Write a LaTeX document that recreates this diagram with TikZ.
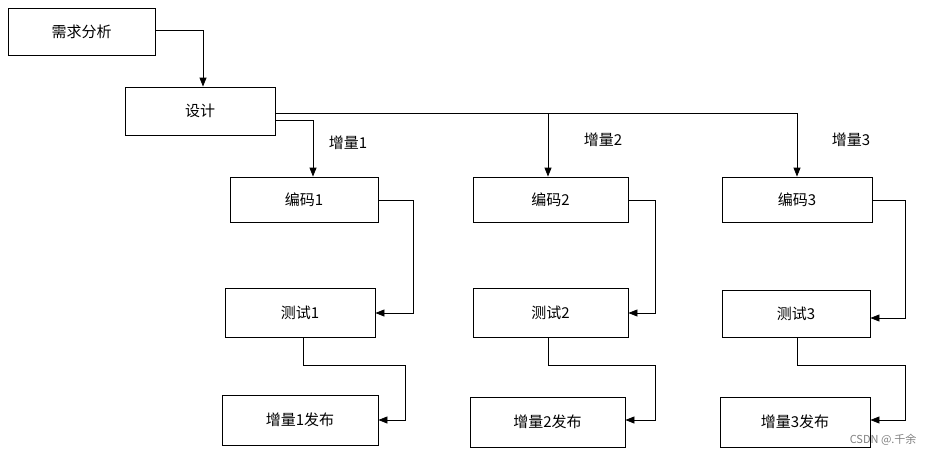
\documentclass[tikz,border=0pt]{standalone}
\usepackage{fontspec}
\newfontfamily\cjk{Noto Sans CJK SC}
\usetikzlibrary{arrows.meta}
\begin{document}
\begin{tikzpicture}[x=1pt,y=-1pt,
  box/.style={draw,line width=0.8pt,rectangle,inner sep=0,font=\cjk\fontsize{15}{15}\selectfont},
  ar/.style={line width=0.8pt,-{Triangle[length=9pt,width=7pt]}},
  ln/.style={line width=0.8pt},
  lab/.style={font=\cjk\fontsize{15}{15}\selectfont}]
\useasboundingbox (0,0) rectangle (925,455);
\newcommand{\bx}[6]{\node[box,minimum width=#4-#2,minimum height=#5-#3] (#1) at ({(#2+#4)/2},{(#3+#5)/2}) {#6};}
\bx{req}{8}{8}{155}{55}{需求分析}
\bx{des}{125}{87}{275}{135}{设计}
\bx{c1}{230}{177}{378}{222}{编码1}
\bx{c2}{473}{177}{628}{222}{编码2}
\bx{c3}{722}{177}{872}{222}{编码3}
\bx{t1}{225}{288}{375}{337}{测试1}
\bx{t2}{473}{288}{628}{337}{测试2}
\bx{t3}{722}{290}{870}{337}{测试3}
\bx{r1}{222}{395}{378}{445}{增量1发布}
\bx{r2}{470}{397}{625}{447}{增量2发布}
\bx{r3}{720}{397}{870}{447}{增量3发布}
\draw[ar] (req.east |- 0,30) -| (des.north -| 203,0);
\draw[ln] (des.east |- 0,113) -- (797,113);
\draw[ar] (548,113) -- (c2.north -| 548,0);
\draw[ar] (797,113) -- (c3.north -| 797,0);
\draw[ar] (des.east |- 0,120) -| (c1.north -| 313,0);
\node[lab] at (348,143) {增量1};
\node[lab] at (603,140) {增量2};
\node[lab] at (851,140) {增量3};
\draw[ar] (c1.east |- 0,200) -| (413,313) -- (t1.east |- 0,313);
\draw[ar] (c2.east |- 0,200) -| (655,313) -- (t2.east |- 0,313);
\draw[ar] (c3.east |- 0,200) -| (905,318) -- (t3.east |- 0,318);
\draw[ar] (t1.south -| 303,0) |- (405,365) |- (r1.east |- 0,420);
\draw[ar] (t2.south -| 548,0) |- (655,365) |- (r2.east |- 0,420);
\draw[ar] (t3.south -| 797,0) |- (905,365) |- (r3.east |- 0,420);
\node[font=\cjk\fontsize{11}{11}\selectfont,text=gray,anchor=east] (wm) at (920,440) {CSDN @.千余};
\end{tikzpicture}
\end{document}
